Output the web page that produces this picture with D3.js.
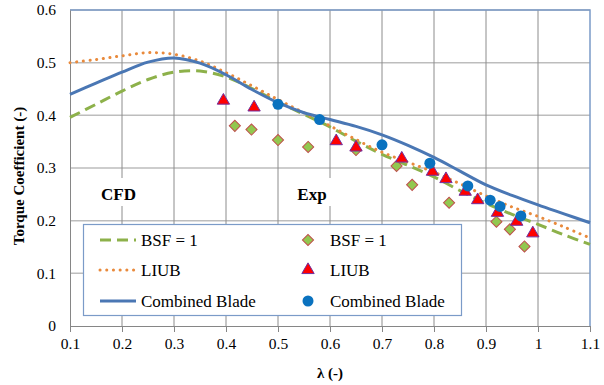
<!DOCTYPE html>
<html>
<head>
<meta charset="utf-8">
<script src="https://cdn.jsdelivr.net/npm/d3@7"></script>
<style>
  body { margin: 0; background: #fff; }
  text { font-family: "Liberation Serif", "Times New Roman", serif; fill: #000; }
</style>
</head>
<body>
<script>
const width = 604,
      height = 385,
      plotLeft = 70, plotRight = 590, plotTop = 10, plotBottom = 326;

// CFD curves (lambda, torque coefficient)
const lambdaCfd = [0.1, 0.15, 0.2, 0.25, 0.3, 0.35, 0.4, 0.45, 0.5, 0.55, 0.6, 0.65, 0.7, 0.75, 0.8, 0.85, 0.9, 0.95, 1.0, 1.05, 1.1];
const bsfCfd = [0.396, 0.421, 0.446, 0.468, 0.482, 0.484, 0.473, 0.451, 0.425, 0.402, 0.378, 0.351, 0.326, 0.305, 0.283, 0.257, 0.233, 0.212, 0.193, 0.173, 0.155];
const liubCfd = [0.5, 0.506, 0.513, 0.519, 0.516, 0.503, 0.481, 0.456, 0.43, 0.405, 0.38, 0.354, 0.33, 0.311, 0.292, 0.27, 0.247, 0.226, 0.208, 0.188, 0.167];
const combinedCfd = [0.44, 0.461, 0.482, 0.501, 0.509, 0.499, 0.477, 0.449, 0.424, 0.405, 0.392, 0.379, 0.363, 0.343, 0.32, 0.294, 0.268, 0.248, 0.23, 0.213, 0.196];

// experiments
const bsfExpX = [0.417, 0.449, 0.5, 0.558, 0.65, 0.728, 0.758, 0.829, 0.92, 0.946, 0.974];
const bsfExpY = [0.38, 0.373, 0.353, 0.34, 0.334, 0.304, 0.268, 0.234, 0.198, 0.1835, 0.151];
const liubExpX = [0.395, 0.454, 0.612, 0.65, 0.738, 0.797, 0.823, 0.86, 0.884, 0.922, 0.959, 0.99];
const liubExpY = [0.428, 0.415, 0.351, 0.339, 0.318, 0.293, 0.279, 0.255, 0.239, 0.215, 0.198, 0.176];
const combinedExpX = [0.5, 0.58, 0.7, 0.792, 0.865, 0.908, 0.927, 0.967];
const combinedExpY = [0.421, 0.392, 0.344, 0.309, 0.266, 0.239, 0.227, 0.209];

const xTicks = [0.1, 0.2, 0.3, 0.4, 0.5, 0.6, 0.7, 0.8, 0.9, 1, 1.1];
const yTicks = [0, 0.1, 0.2, 0.3, 0.4, 0.5, 0.6];

const blue = "#4a77b4", green = "#8db14a", orange = "#e98a3c";

function zip(xs, ys) {
    return xs.map(function (x, i) { return {x: x, y: ys[i]}; });
}

function drawChart() {
    let svg = d3.select("body")
        .append("svg")
        .attr("width", width)
        .attr("height", height);

    let x = d3.scaleLinear().domain([0.1, 1.1]).range([plotLeft, plotRight]);
    let y = d3.scaleLinear().domain([0, 0.6]).range([plotBottom, plotTop]);

    // gridlines
    svg.append("g").selectAll("line")
        .data(yTicks.slice(1))
        .enter().append("line")
        .attr("x1", plotLeft).attr("x2", plotRight)
        .attr("y1", function (d) { return y(d); })
        .attr("y2", function (d) { return y(d); })
        .attr("stroke", "#bdbdbd")
        .attr("stroke-width", 1.5);

    svg.append("g").selectAll("line")
        .data(xTicks.slice(1, -1))
        .enter().append("line")
        .attr("x1", function (d) { return x(d); })
        .attr("x2", function (d) { return x(d); })
        .attr("y1", plotTop).attr("y2", plotBottom)
        .attr("stroke", "#8c8c8c")
        .attr("stroke-width", 1);

    // plot frame (top & right blue)
    svg.append("path")
        .attr("d", "M" + plotLeft + "," + plotTop + "H" + plotRight + "V" + plotBottom)
        .attr("fill", "none")
        .attr("stroke", "#7b9bc8")
        .attr("stroke-width", 1.5);

    // x axis
    let xAxis = d3.axisBottom(x)
        .tickValues(xTicks)
        .tickSize(6)
        .tickPadding(6)
        .tickFormat(function (d) { return String(+d.toFixed(1)); });
    let gx = svg.append("g")
        .attr("transform", "translate(0," + plotBottom + ")")
        .call(xAxis);
    gx.select(".domain").attr("stroke", "#868686");
    gx.selectAll(".tick line").attr("stroke", "#868686");
    gx.selectAll("text")
        .style("font-family", "Liberation Serif")
        .style("font-size", "15.5px")
        .attr("fill", "#000");

    // y axis
    let yAxis = d3.axisLeft(y)
        .tickValues(yTicks)
        .tickSize(0)
        .tickPadding(14)
        .tickFormat(function (d) { return String(+d.toFixed(1)); });
    let gy = svg.append("g")
        .attr("transform", "translate(" + plotLeft + ",0)")
        .call(yAxis);
    gy.select(".domain").attr("stroke", "#868686");
    gy.selectAll("text")
        .style("font-family", "Liberation Serif")
        .style("font-size", "15.5px")
        .attr("fill", "#000");

    // CFD curves
    let line = d3.line()
        .curve(d3.curveCatmullRom.alpha(0.5))
        .x(function (d) { return x(d.x); })
        .y(function (d) { return y(d.y); });

    svg.append("path")
        .attr("d", line(zip(lambdaCfd, bsfCfd)))
        .attr("fill", "none")
        .attr("stroke", green)
        .attr("stroke-width", 3)
        .attr("stroke-dasharray", "11,6");

    svg.append("path")
        .attr("d", line(zip(lambdaCfd, liubCfd)))
        .attr("fill", "none")
        .attr("stroke", orange)
        .attr("stroke-width", 3)
        .attr("stroke-linecap", "round")
        .attr("stroke-dasharray", "0.1,6.6");

    svg.append("path")
        .attr("d", line(zip(lambdaCfd, combinedCfd)))
        .attr("fill", "none")
        .attr("stroke", blue)
        .attr("stroke-width", 3);

    // experimental markers
    let diamond = d3.symbol().type(d3.symbolSquare).size(62);
    let triangle = d3.symbol().type(d3.symbolTriangle).size(66);

    svg.append("g").selectAll("path")
        .data(zip(bsfExpX, bsfExpY))
        .enter().append("path")
        .attr("d", diamond())
        .attr("transform", function (d) { return "translate(" + x(d.x) + "," + y(d.y) + ")rotate(45)"; })
        .attr("fill", "#92c84f")
        .attr("stroke", "#c0504d")
        .attr("stroke-width", 1);

    svg.append("g").selectAll("path")
        .data(zip(liubExpX, liubExpY))
        .enter().append("path")
        .attr("d", triangle())
        .attr("transform", function (d) { return "translate(" + x(d.x) + "," + y(d.y) + ")"; })
        .attr("fill", "#ff0000")
        .attr("stroke", "#7030a0")
        .attr("stroke-width", 1);

    svg.append("g").selectAll("circle")
        .data(zip(combinedExpX, combinedExpY))
        .enter().append("circle")
        .attr("cx", function (d) { return x(d.x); })
        .attr("cy", function (d) { return y(d.y); })
        .attr("r", 5.5)
        .attr("fill", "#0a72bf");

    // CFD / Exp labels (white background hides gridline)
    [{t: "CFD", cx: 118.5, w: 44}, {t: "Exp", cx: 312, w: 40}].forEach(function (l) {
        svg.append("rect")
            .attr("x", l.cx - l.w / 2).attr("y", 178)
            .attr("width", l.w).attr("height", 28)
            .attr("fill", "#fff");
        svg.append("text")
            .attr("x", l.cx).attr("y", 200)
            .attr("text-anchor", "middle")
            .style("font-size", "17px")
            .style("font-weight", "bold")
            .text(l.t);
    });

    // legend
    let lg = svg.append("g");
    lg.append("rect")
        .attr("x", 83.5).attr("y", 224.5)
        .attr("width", 378).attr("height", 91)
        .attr("fill", "#fff")
        .attr("stroke", "#7b9bc8")
        .attr("stroke-width", 1.2);

    let rows = [240, 270, 301];
    let names = ["BSF = 1", "LIUB", "Combined Blade"];
    let styles = [
        {stroke: green, dash: "11,6", cap: "butt"},
        {stroke: orange, dash: "0.1,6.6", cap: "round"},
        {stroke: blue, dash: null, cap: "butt"}
    ];
    rows.forEach(function (ry, i) {
        lg.append("line")
            .attr("x1", 100).attr("x2", 136)
            .attr("y1", ry).attr("y2", ry)
            .attr("stroke", styles[i].stroke)
            .attr("stroke-width", 3)
            .attr("stroke-linecap", styles[i].cap)
            .attr("stroke-dasharray", styles[i].dash);
        lg.append("text")
            .attr("x", 141).attr("y", ry + 6)
            .style("font-size", "17px")
            .text(names[i]);
        lg.append("text")
            .attr("x", 330).attr("y", ry + 6)
            .style("font-size", "17px")
            .text(names[i]);
    });
    lg.append("path")
        .attr("d", diamond())
        .attr("transform", "translate(308," + rows[0] + ")rotate(45)")
        .attr("fill", "#92c84f")
        .attr("stroke", "#c0504d");
    lg.append("path")
        .attr("d", triangle())
        .attr("transform", "translate(308," + rows[1] + ")")
        .attr("fill", "#ff0000")
        .attr("stroke", "#7030a0");
    lg.append("circle")
        .attr("cx", 308).attr("cy", rows[2])
        .attr("r", 5.5)
        .attr("fill", "#0a72bf");

    // axis titles
    svg.append("text")
        .attr("text-anchor", "middle")
        .attr("transform", "translate(24,176)rotate(-90)")
        .style("font-size", "15px")
        .style("font-weight", "bold")
        .text("Torque Coefficient (-)");

    svg.append("text")
        .attr("x", 330).attr("y", 378)
        .attr("text-anchor", "middle")
        .style("font-size", "15px")
        .style("font-weight", "bold")
        .text("λ (-)");
}

window.onload = drawChart;
</script>
</body>
</html>
